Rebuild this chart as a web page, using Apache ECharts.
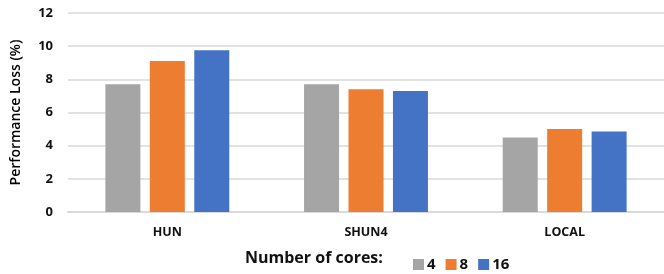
<!DOCTYPE html>
<html>
<head>
<meta charset="utf-8">
<style>
    html, body { margin: 0; padding: 0; background: #fff; }
    #main { width: 664px; height: 274px; }
</style>
<script src="https://cdn.jsdelivr.net/npm/echarts@6/dist/echarts.min.js"></script>
</head>
<body>
<div id="main"></div>
<script>
'use strict';

// 数据
var categories = ['HUN', 'SHUN4', 'LOCAL'];
var cores4 = [7.7, 7.7, 4.5];
var cores8 = [9.1, 7.4, 5.0];
var cores16 = [9.75, 7.3, 4.85];
var seriesNames = ['4', '8', '16'];
var colors = ['#a5a5a5', '#ed7d31', '#4472c4'];

var font = '"Open Sans", "DejaVu Sans", sans-serif';

function makeBar(name, data) {
    return {
        name: name,
        type: 'bar',
        data: data,
        barWidth: 35,
        barGap: '27%'
    };
}

var option = {
    color: colors,
    animation: false,
    grid: {
        left: 68,
        right: 0,
        top: 13,
        bottom: 62
    },
    graphic: [{
        type: 'text',
        left: 245,
        top: 250,
        style: {
            text: 'Number of cores:',
            font: 'bold 16px ' + font,
            fill: '#111'
        }
    }],
    legend: {
        left: 408,
        top: 252,
        itemWidth: 11,
        itemHeight: 11,
        itemGap: 10,
        icon: 'rect',
        textStyle: {
            fontFamily: font,
            fontWeight: 'bold',
            fontSize: 15,
            color: '#111',
            padding: [0, 0, 0, -2]
        },
        data: seriesNames
    },
    xAxis: {
        type: 'category',
        data: categories,
        axisTick: { show: false },
        axisLine: {
            lineStyle: { color: '#d9d9d9', width: 2 }
        },
        axisLabel: {
            margin: 14,
            fontFamily: font,
            fontWeight: 'bold',
            fontSize: 12.5,
            color: '#111'
        }
    },
    yAxis: {
        type: 'value',
        min: 0,
        max: 12,
        interval: 2,
        name: 'Performance Loss (%)',
        nameLocation: 'middle',
        nameGap: 45,
        nameTextStyle: {
            fontFamily: font,
            fontWeight: 600,
            fontSize: 14,
            color: '#000'
        },
        axisLine: { show: false },
        axisTick: { show: false },
        axisLabel: {
            margin: 15,
            fontFamily: font,
            fontWeight: 'bold',
            fontSize: 13,
            color: '#111'
        },
        splitLine: {
            lineStyle: { color: '#d9d9d9', width: 1.5 }
        }
    },
    series: [
        makeBar(seriesNames[0], cores4),
        makeBar(seriesNames[1], cores8),
        makeBar(seriesNames[2], cores16)
    ]
};

var myChart = echarts.init(document.getElementById('main'));
myChart.setOption(option);
</script>
</body>
</html>
